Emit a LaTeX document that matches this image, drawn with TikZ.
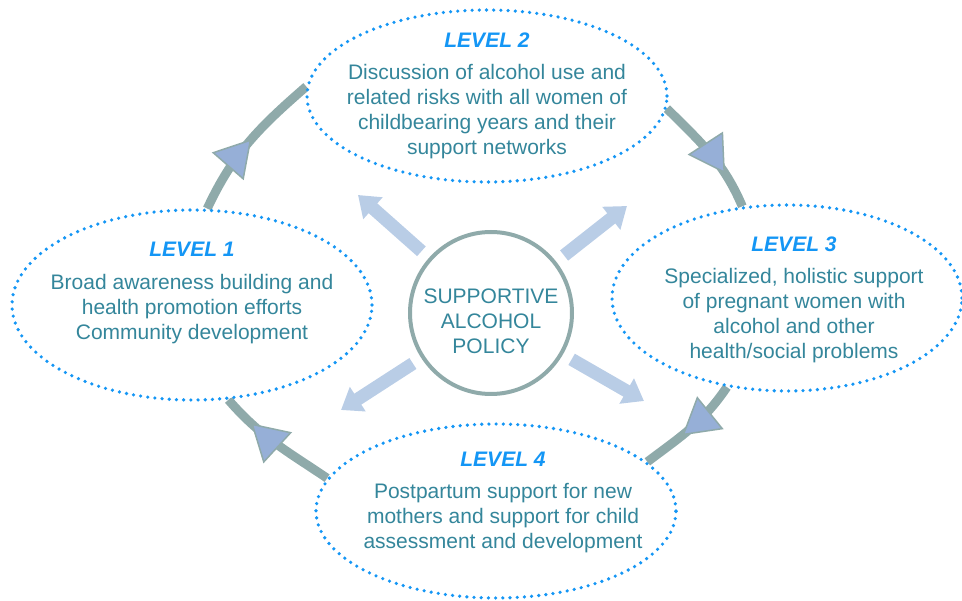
\documentclass[tikz,border=0pt]{standalone}
\usepackage{fontspec}
\setmainfont{Liberation Sans}
\usetikzlibrary{shapes.geometric, arrows.meta, decorations.markings, backgrounds}
\definecolor{lvlblue}{RGB}{20,150,245}
\definecolor{bodyteal}{RGB}{52,134,155}
\definecolor{ringgray}{RGB}{143,170,170}
\definecolor{tipblue}{RGB}{150,175,215}
\definecolor{spokeblue}{RGB}{185,205,230}
\newcommand{\lvlhead}[1]{{\color{lvlblue}\bfseries\itshape #1}}
\tikzset{
  lvl/.style={ellipse, draw=lvlblue, line width=3.6pt, dash pattern=on 0pt off 7.2pt,
    line cap=round, fill=white, inner sep=0pt, minimum width=360pt,
    minimum height=172pt},
  lvltext/.style={align=center, text=bodyteal, inner sep=0pt,
    font=\fontsize{21}{25}\selectfont},
  policy/.style={circle, draw=ringgray, line width=4pt, fill=white,
    minimum size=162pt, inner sep=0pt},
  spoke/.style={-{Triangle[length=20pt,width=28pt]}, line width=13pt,
    color=spokeblue, shorten <=10pt},
  ring/.style={line width=9pt, color=ringgray},
  ringtip/.style={postaction={decorate, decoration={markings,
    mark=at position #1 with {\arrow{Triangle[length=36pt,width=42pt,
      line width=1.5pt,fill=tipblue,color=ringgray]}}}}},
}
\begin{document}
\begin{tikzpicture}[x=1pt, y=1pt]
  \useasboundingbox (0,0) rectangle (962,-601);

  % the four levels
  \node[lvl, minimum height=190pt] (l1) at (192,-305) {};
  \node[lvl] (l2) at (487,-96) {};
  \node[lvl, minimum width=350pt, minimum height=186pt] (l3) at (787,-298) {};
  \node[lvl, minimum height=174pt] (l4) at (496,-511) {};

  \node[lvltext] (t1) at (192,-293)
    {\lvlhead{LEVEL 1}\\[8pt]Broad awareness building and\\health promotion efforts\\Community development};
  \node[lvltext] (t2) at (487,-96)
    {\lvlhead{LEVEL 2}\\[7pt]Discussion of alcohol use and\\related risks with all women of\\childbearing years and their\\support networks};
  \node[lvltext] (t3) at (794,-300)
    {\lvlhead{LEVEL 3}\\[7pt]Specialized, holistic support\\of pregnant women with\\alcohol and other\\health/social problems};
  \node[lvltext] (t4) at (503,-502)
    {\lvlhead{LEVEL 4}\\[7pt]Postpartum support for new\\mothers and support for child\\assessment and development};

  % centre
  \node[policy] (pol) at (491,-313) {};
  \node[lvltext] (poltext) at (491,-321) {SUPPORTIVE\\ALCOHOL\\POLICY};

  \coordinate (sUL) at (358,-195);
  \coordinate (sUR) at (627,-206);
  \coordinate (sLL) at (341,-410);
  \coordinate (sLR) at (644,-401);
  \draw[spoke] (pol) -- (sUL);
  \draw[spoke] (pol) -- (sUR);
  \draw[spoke] (pol) -- (sLL);
  \draw[spoke] (pol) -- (sLR);

  % cycle
  \begin{scope}[on background layer]
    \draw[ring, ringtip=0.52] (l1.81) to[out=65,in=221] (l2.177);
    \draw[ring, ringtip=0.7] (l2.356) to[out=-45,in=113] (l3.116);
    \draw[ring, ringtip=0.6] (l3.236) to[out=236,in=37] (l4.18);
    \draw[ring, ringtip=0.74] (l4.169) to[out=146,in=311] (l1.291);
  \end{scope}
\end{tikzpicture}
\end{document}
